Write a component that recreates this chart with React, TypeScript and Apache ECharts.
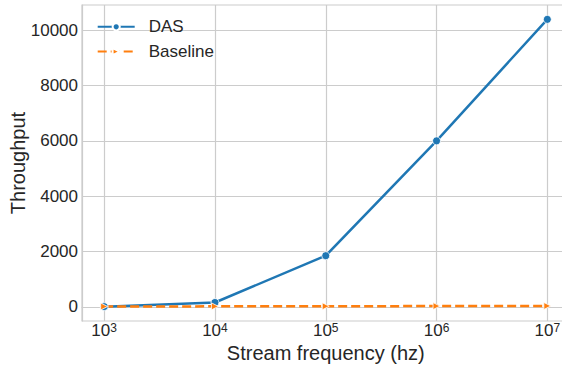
import React, { useEffect, useRef } from "react";
import * as echarts from "echarts";

const frequencies = [1e3, 1e4, 1e5, 1e6, 1e7];
const dasValues = [10, 160, 1850, 6000, 10390];
const baselineValues = [15, 20, 25, 30, 35];
const xTickExponents = [3, 4, 5, 6, 7];
const yTicks = [0, 2000, 4000, 6000, 8000, 10000];

const TEXT = "#262626";
const GRID = "#cccccc";
const FONT = "Liberation Sans, Arial, sans-serif";

export default function App() {
  const ref = useRef<HTMLDivElement>(null);
  useEffect(() => {
    if (!ref.current) return;
    const chart = echarts.init(ref.current, undefined, { renderer: "svg" });
    const xs = frequencies.map((f) => Math.log10(f));
    const xMin = xs[0] - 0.05 * (xs[xs.length - 1] - xs[0]);
    const xMax = xs[xs.length - 1] + 0.05 * (xs[xs.length - 1] - xs[0]);
    const allY = [...dasValues, ...baselineValues];
    const yLo = Math.min(...allY);
    const yHi = Math.max(...allY);
    const yMin = yLo - 0.05 * (yHi - yLo);
    const yMax = yHi + 0.05 * (yHi - yLo);
    chart.setOption({
      animation: false,
      backgroundColor: "#ffffff",
      textStyle: { fontFamily: FONT },
      grid: {
        left: 82,
        top: 5,
        bottom: 46,
        right: -7.5,
        containLabel: false,
        outerBoundsMode: "none",
        show: true,
        borderColor: GRID,
        borderWidth: 1.2,
        backgroundColor: "transparent",
      },
      legend: {
        data: ["DAS", "Baseline"],
        orient: "vertical",
        left: 91.7,
        top: 13.3,
        itemWidth: 37,
        itemHeight: 9,
        itemGap: 7.8,
        textStyle: { fontSize: 17, color: TEXT, fontFamily: FONT, padding: [0, 0, 0, 9] },
      },
      xAxis: {
        type: "value",
        min: xMin,
        max: xMax,
        name: "Stream frequency (hz)",
        nameLocation: "middle",
        nameGap: 22,
        nameMoveOverlap: false,
        nameTextStyle: { fontSize: 20, color: TEXT, fontFamily: FONT },
        axisLine: { show: true, lineStyle: { color: GRID, width: 1.2 } },
        axisTick: { show: false, customValues: xTickExponents },
        splitLine: { show: true, lineStyle: { color: GRID, width: 1.2 } },
        axisLabel: {
          customValues: xTickExponents,
          margin: 0.5,
          color: TEXT,
          formatter: (v: number) => `{b|10}{s|${Math.round(v)}}`,
          rich: {
            b: { fontSize: 17, color: TEXT, fontFamily: FONT, lineHeight: 17, verticalAlign: "bottom" },
            s: { fontSize: 12, color: TEXT, fontFamily: FONT, lineHeight: 5, verticalAlign: "top" },
          },
        },
      },
      yAxis: {
        type: "value",
        min: yMin,
        max: yMax,
        name: "Throughput",
        nameLocation: "middle",
        nameGap: 54,
        nameMoveOverlap: false,
        nameTextStyle: { fontSize: 20, color: TEXT, fontFamily: FONT },
        axisLine: { show: true, lineStyle: { color: GRID, width: 1.2 } },
        axisTick: { show: false, customValues: yTicks },
        splitLine: { show: true, lineStyle: { color: GRID, width: 1.2 } },
        axisLabel: {
          customValues: yTicks,
          margin: 4,
          fontSize: 17,
          color: TEXT,
          fontFamily: FONT,
          formatter: (v: number) => String(Math.round(v)),
        },
      },
      series: [
        {
          name: "DAS",
          type: "line",
          data: xs.map((x, i) => [x, dasValues[i]]),
          symbol: "circle",
          symbolSize: 8,
          lineStyle: { color: "#1f77b4", width: 2.5 },
          itemStyle: { color: "#1f77b4", borderColor: "#ffffff", borderWidth: 0.8 },
          clip: false,
        },
        {
          name: "Baseline",
          type: "line",
          data: xs.map((x, i) => [x, baselineValues[i]]),
          symbol: "triangle",
          symbolRotate: -90,
          symbolSize: 7,
          lineStyle: { color: "#ff7f0e", width: 2.5, type: [9, 4] },
          itemStyle: { color: "#ff7f0e", borderColor: "#ffffff", borderWidth: 0.8 },
          clip: false,
        },
      ],
    });
    return () => chart.dispose();
  }, []);
  return (
    <div
      ref={ref}
      style={{ position: "fixed", left: 0, top: 0, width: 562, height: 367 }}
    />
  );
}
